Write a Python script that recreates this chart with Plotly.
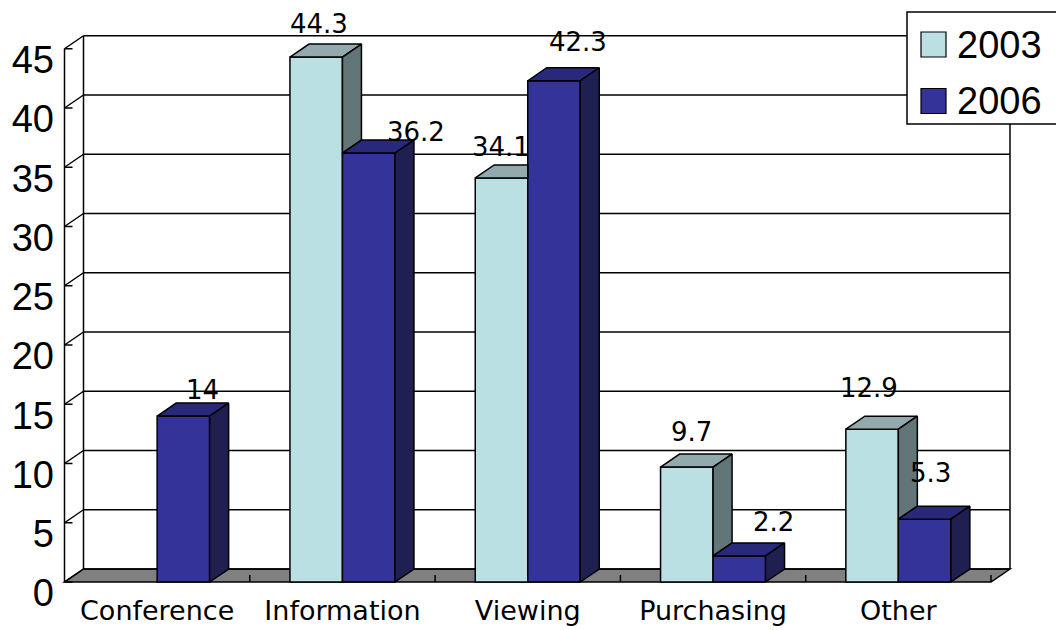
import plotly.graph_objects as go

# ---------------- data ----------------
categories = ["Conference", "Information", "Viewing", "Purchasing", "Other"]
series_names = ["2003", "2006"]
values_2003 = [None, 44.3, 34.1, 9.7, 12.9]
values_2006 = [14, 36.2, 42.3, 2.2, 5.3]
y_ticks = [0, 5, 10, 15, 20, 25, 30, 35, 40, 45]

# ---------------- styling / layout (pixels) ----------------
label_off_2003 = [None, (3, 33), (-1, 31), (5, 35), (-3, 41)]
label_off_2006 = [(19, 26), (47, 21), (24, 39), (34, 34), (6, 46)]

col_front = {"2003": "#BBE0E3", "2006": "#333399"}
col_top = {"2003": "#92AAAD", "2006": "#29297B"}
col_side = {"2003": "#627677", "2006": "#1F1F52"}

W, H = 1056, 630
X0_PX, CAT_PX = 64.5, 185.3      # front-left of category axis, px per category
Y0_PX, UNIT_PX = 582, 11.85      # y=0 pixel row, px per unit
DEPTH_X_PX, DEPTH_Y_PX = 19, 13
BAR_PX = 52.5
PLOT_L, PLOT_R, PLOT_T, PLOT_B = 55, 1016, 28, 592


def px_to_x(px):
    return (px - X0_PX) / CAT_PX - 0.5


def px_to_y(py):
    return (Y0_PX - py) / UNIT_PX


def ppx(px):
    return (px - PLOT_L) / (PLOT_R - PLOT_L)


def ppy(py):
    return (PLOT_B - py) / (PLOT_B - PLOT_T)


DX = DEPTH_X_PX / CAT_PX
DY = DEPTH_Y_PX / UNIT_PX
BW = BAR_PX / CAT_PX
n = len(categories)
XL, XR = -0.5, n - 0.5
YMAX = max(y_ticks)
LW = 1.5

fig = go.Figure()

# front faces as bars
for name, vals, off in [("2003", values_2003, -BW), ("2006", values_2006, 0.0)]:
    fig.add_trace(go.Bar(
        x=list(range(n)), y=vals, width=BW, offset=off, name=name,
        marker=dict(color=col_front[name], line=dict(color="black", width=LW)),
        showlegend=False, hoverinfo="skip"))


def poly(xs, ys, color):
    fig.add_trace(go.Scatter(
        x=xs + [xs[0]], y=ys + [ys[0]], mode="lines", fill="toself",
        fillcolor=color, line=dict(color="black", width=LW),
        showlegend=False, hoverinfo="skip"))


# 3D top and side faces, back-to-front
for i in range(n):
    v1 = values_2003[i]
    v2 = values_2006[i]
    if v1 is not None:
        xl, xr = i - BW, i
        base = v2 if v2 is not None else 0
        if base < v1:
            poly([xl, xr, xr + DX, xl + DX], [v1, v1, v1 + DY, v1 + DY], col_top["2003"])
            poly([xr, xr, xr + DX, xr + DX], [base, v1, v1 + DY, base + DY], col_side["2003"])
        else:
            poly([xl, xr, xr, xl + DX], [v1, v1, v1 + DY, v1 + DY], col_top["2003"])
    if v2 is not None:
        xl, xr = i, i + BW
        poly([xl, xr, xr + DX, xl + DX], [v2, v2, v2 + DY, v2 + DY], col_top["2006"])
        poly([xr, xr, xr + DX, xr + DX], [0, v2, v2 + DY, DY], col_side["2006"])

shapes = []
# floor
shapes.append(dict(type="path", xref="x", yref="y", layer="below",
                   path=f"M {XL},0 L {XR},0 L {XR + DX},{DY} L {XL + DX},{DY} Z",
                   fillcolor="#808080", line=dict(color="black", width=LW)))
# back wall grid lines, side diagonals, front ticks
tick_len = 8 / CAT_PX
for v in y_ticks:
    shapes.append(dict(type="line", xref="x", yref="y", layer="below",
                       x0=XL + DX, x1=XR + DX, y0=v + DY, y1=v + DY,
                       line=dict(color="black", width=LW)))
    shapes.append(dict(type="line", xref="x", yref="y", layer="below",
                       x0=XL, x1=XL + DX, y0=v, y1=v + DY,
                       line=dict(color="black", width=LW)))
    shapes.append(dict(type="line", xref="x", yref="y", layer="below",
                       x0=XL, x1=XL + tick_len, y0=v, y1=v,
                       line=dict(color="black", width=LW)))
# verticals
for x0, y0, y1 in [(XL, 0, YMAX), (XL + DX, DY, YMAX + DY), (XR + DX, DY, YMAX + DY)]:
    shapes.append(dict(type="line", xref="x", yref="y", layer="below",
                       x0=x0, x1=x0, y0=y0, y1=y1,
                       line=dict(color="black", width=LW)))
# floor ticks
for k in range(1, n + 1):
    shapes.append(dict(type="line", xref="x", yref="y", layer="below",
                       x0=XL + k, x1=XL + k, y0=0, y1=7 / UNIT_PX,
                       line=dict(color="black", width=LW)))

# manual legend
shapes.append(dict(type="rect", xref="paper", yref="paper", layer="above",
                   x0=ppx(907), x1=ppx(1070), y0=ppy(124), y1=ppy(12),
                   fillcolor="white", line=dict(color="black", width=LW)))
annotations = []
for j, name in enumerate(series_names):
    yc = 44.5 + j * 56.5
    shapes.append(dict(type="rect", xref="paper", yref="paper", layer="above",
                       x0=ppx(921), x1=ppx(946), y0=ppy(yc + 12.5), y1=ppy(yc - 12.5),
                       fillcolor=col_front[name], line=dict(color="black", width=1.2)))
    annotations.append(dict(xref="paper", yref="paper", x=ppx(955), y=ppy(yc),
                            text=name, showarrow=False, xanchor="left", yanchor="middle",
                            font=dict(family="Liberation Sans, Arial", size=38, color="black")))

# data labels
for name, vals, offs, shift in [("2003", values_2003, label_off_2003, -BW / 2),
                                 ("2006", values_2006, label_off_2006, BW / 2)]:
    for i, v in enumerate(vals):
        if v is None:
            continue
        dxp, dyp = offs[i]
        annotations.append(dict(x=i + shift, y=v, xref="x", yref="y",
                                text=f"{v:g}", showarrow=False,
                                xanchor="center", yanchor="middle",
                                xshift=dxp, yshift=dyp,
                                font=dict(family="DejaVu Sans", size=26, color="black")))

fig.update_layout(
    width=W, height=H,
    margin=dict(l=PLOT_L, r=W - PLOT_R, t=PLOT_T, b=H - PLOT_B, autoexpand=False),
    paper_bgcolor="white", plot_bgcolor="white",
    barmode="overlay", showlegend=False,
    shapes=shapes, annotations=annotations,
    xaxis=dict(range=[px_to_x(PLOT_L), px_to_x(PLOT_R)], tickmode="array",
               tickvals=list(range(n)), ticktext=categories,
               showgrid=False, zeroline=False, showline=False, ticks="",
               tickfont=dict(family="DejaVu Sans", size=27, color="black"),
               fixedrange=True),
    yaxis=dict(range=[px_to_y(PLOT_B), px_to_y(PLOT_T)], tickmode="array",
               tickvals=y_ticks, ticktext=[str(t) for t in y_ticks],
               showgrid=False, zeroline=False, showline=False, ticks="",
               ticklabelshift=11,
               tickfont=dict(family="Liberation Sans, Arial", size=38, color="black"),
               fixedrange=True),
)

fig.write_html("out.html")
